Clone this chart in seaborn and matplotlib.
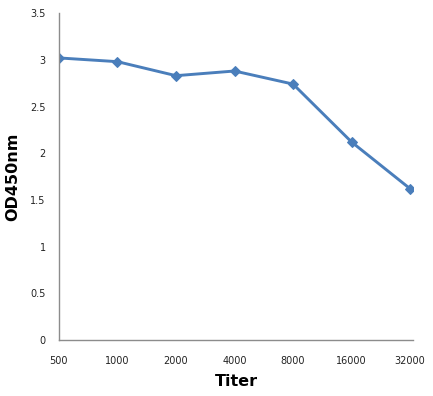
import matplotlib
matplotlib.use("Agg")
import matplotlib.pyplot as plt
import seaborn as sns
import pandas as pd

titers = [500, 1000, 2000, 4000, 8000, 16000, 32000]
tick_labels = ["500", "1000", "2000", "4000", "8000", "16000", "32000"]
od450 = [3.02, 2.98, 2.83, 2.88, 2.74, 2.12, 1.62]
y_ticks = [0, 0.5, 1, 1.5, 2, 2.5, 3, 3.5]
y_tick_labels = ["0", "0.5", "1", "1.5", "2", "2.5", "3", "3.5"]

sns.set_style("white")
plt.rcParams['font.family'] = ['DejaVu Sans']

df = pd.DataFrame({"Titer": titers, "OD450nm": od450})

fig = plt.figure(figsize=(4.33, 3.96), dpi=100)
ax = fig.add_axes([0.136, 0.141, 0.818, 0.826])

sns.lineplot(data=df, x="Titer", y="OD450nm", ax=ax, color="#4A7EBB",
             linewidth=2.1, marker="D", markersize=5.5,
             markeredgecolor="#4A7EBB", markerfacecolor="#4A7EBB")

ax.set_xscale("log", base=2)
ax.set_xlim(500, 32000 * 2 ** 0.05)
ax.set_ylim(0, 3.5)
ax.set_xticks(titers)
ax.set_xticklabels(tick_labels)
ax.minorticks_off()
ax.set_yticks(y_ticks)
ax.set_yticklabels(y_tick_labels)

ax.tick_params(axis="x", length=0, pad=11.5, labelsize=7, labelcolor="#222222")
ax.tick_params(axis="y", length=0, pad=9.5, labelsize=7, labelcolor="#222222")

for s in ["top", "right"]:
    ax.spines[s].set_visible(False)
for s in ["left", "bottom"]:
    ax.spines[s].set_color("#8c8c8c")
    ax.spines[s].set_linewidth(1.0)

ax.set_xlabel("Titer", fontsize=11.5, fontweight="bold", labelpad=5.5, color="black")
ax.set_ylabel("OD450nm", fontsize=11.5, fontweight="bold", labelpad=7, color="black")
ax.grid(False)

fig.savefig("out.png", dpi=100)
